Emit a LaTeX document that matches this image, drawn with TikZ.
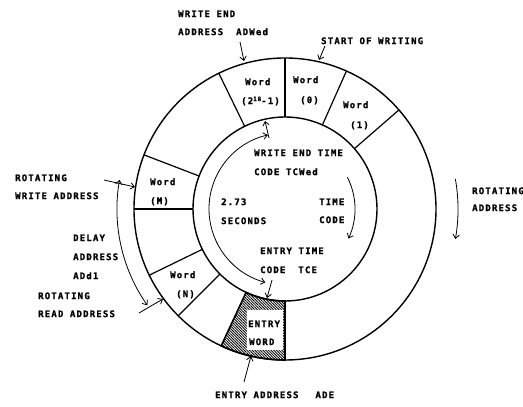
\documentclass[tikz,border=0pt]{standalone}
\usepackage{fontspec}
\usetikzlibrary{calc,arrows.meta,patterns.meta}
\newfontfamily\lblfont{DejaVu Sans Mono Bold}[LetterSpace=13,FakeBold=1.2]
\tikzset{
  lbl/.style={anchor=base west,inner sep=0pt,font=\lblfont\fontsize{9}{10}\selectfont},
  ring/.style={line width=1.4pt},
  divider/.style={line width=1.2pt},
  arr/.style={line width=0.8pt,-{Straight Barb[length=4pt,width=6.5pt]}},
  dblarr/.style={line width=0.8pt,{Straight Barb[length=4pt,width=6.5pt]}-{Straight Barb[length=4pt,width=6.5pt]}},
}
\newcommand\sups[1]{\raisebox{3pt}{\fontsize{6}{6}\selectfont #1}}
\begin{document}
\begin{tikzpicture}[x=1pt,y=1pt]
\useasboundingbox (0,0) rectangle (523,407);
\fill[white] (0,0) rectangle (523,407);
\coordinate (C) at (285,198);
% entry word hatched segment
\fill[pattern={Lines[angle=-45,distance=1.9pt,line width=0.85pt]}]
  ($(C)+(245:92)$) arc[start angle=245,end angle=270,radius=92]
  -- ($(C)+(270:151)$) arc[start angle=270,end angle=245,radius=151] -- cycle;
\fill[white] (247,57) rectangle (283,97);
\draw[line width=1.6pt] ($(C)+(245:92)$) arc[start angle=245,end angle=270,radius=92]
  -- ($(C)+(270:151)$) arc[start angle=270,end angle=245,radius=151] -- cycle;
% rings
\draw[ring] (C) circle[radius=151];
\draw[ring] (C) circle[radius=92];
\foreach \a in {41,66,90,116,159,180,206,225} {
  \draw[divider] ($(C)+(\a:92)$) -- ($(C)+(\a:151)$);
}
% word labels
\node[lbl] (w1a) at (245,321.9) {Word};
\node[lbl] (w1b) at (241,302.9) {(2\sups{18}-1)};
\node[lbl] (w2a) at (293,323.9) {Word};
\node[lbl] (w2b) at (300,303.9) {(0)};
\node[lbl] (w3a) at (343,298.9) {Word};
\node[lbl] (w3b) at (350,278.9) {(1)};
\node[lbl] (w4a) at (150,221.9) {Word};
\node[lbl] (w4b) at (150,202.9) {(M)};
\node[lbl] (w5a) at (170,128.9) {Word};
\node[lbl] (w5b) at (176,109.9) {(N)};
\node[lbl] (e1) at (248,79.9) {ENTRY};
\node[lbl] (e2) at (249,61.9) {WORD};
% outer labels
\node[lbl] (t1) at (178,389.9) {WRITE END};
\node[lbl] (t2) at (178,371.9) {ADDRESS\hspace{13pt}ADWed};
\node[lbl] (t3) at (321,362.9) {START OF WRITING};
\node[lbl] (t4) at (15,225.9) {ROTATING};
\node[lbl] (t5) at (15,207.9) {WRITE ADDRESS};
\node[lbl] (t6) at (73,165.9) {DELAY};
\node[lbl] (t7) at (73,146.9) {ADDRESS};
\node[lbl] (t8) at (73,127.9) {ADd1};
\node[lbl] (t9) at (38,107.9) {ROTATING};
\node[lbl] (t10) at (38,89.9) {READ ADDRESS};
\node[lbl] (t11) at (215,8.9) {ENTRY ADDRESS\hspace{17pt}ADE};
\node[lbl] (t12) at (472,212.9) {ROTATING};
\node[lbl] (t13) at (472,195.9) {ADDRESS};
% inner labels
\node[lbl] (i1) at (254,250.9) {WRITE END TIME};
\node[lbl] (i2) at (254,231.9) {CODE TCWed};
\node[lbl] (i3) at (221,201.9) {2.73};
\node[lbl] (i4) at (221,182.9) {SECONDS};
\node[lbl] (i5) at (319,201.9) {TIME};
\node[lbl] (i6) at (319,183.9) {CODE};
\node[lbl] (i7) at (260,152.9) {ENTRY TIME};
\node[lbl] (i8) at (260,133.9) {CODE\hspace{13pt}TCE};
% arrow end points
\coordinate (a1s) at (240,365); \coordinate (a1e) at (244,346);
\coordinate (a2s) at (325,361); \coordinate (a2e) at (319,347);
\coordinate (a3s) at (104,227); \coordinate (a3e) at (135,220);
\coordinate (a5s) at (139,94);  \coordinate (a5e) at (163,108);
\coordinate (a6s) at (244,25);  \coordinate (a6e) at (251,51);
\coordinate (a8s) at (269,269); \coordinate (a8e) at (265,286);
\coordinate (a10s) at (272,127); \coordinate (a10e) at (267,109);
\draw[arr] (a1s) -- (a1e);
\draw[arr] (a2s) -- (a2e);
\draw[arr] (a3s) -- (a3e);
\draw[arr] (a5s) -- (a5e);
\draw[arr] (a6s) -- (a6e);
\draw[arr] (a8s) -- (a8e);
\draw[arr] (a10s) -- (a10e);
% arcs
\draw[dblarr] ($(C)+(170:168)$) arc[start angle=170,end angle=215,radius=168];
\draw[dblarr] ($(C)+(103:76)$) arc[start angle=103,end angle=255,radius=76];
\draw[arr] ($(C)+(27:70)$) arc[start angle=27,end angle=-25,radius=70];
\draw[arr] ($(C)+(10:173)$) arc[start angle=10,end angle=-10,radius=173];
\end{tikzpicture}
\end{document}
